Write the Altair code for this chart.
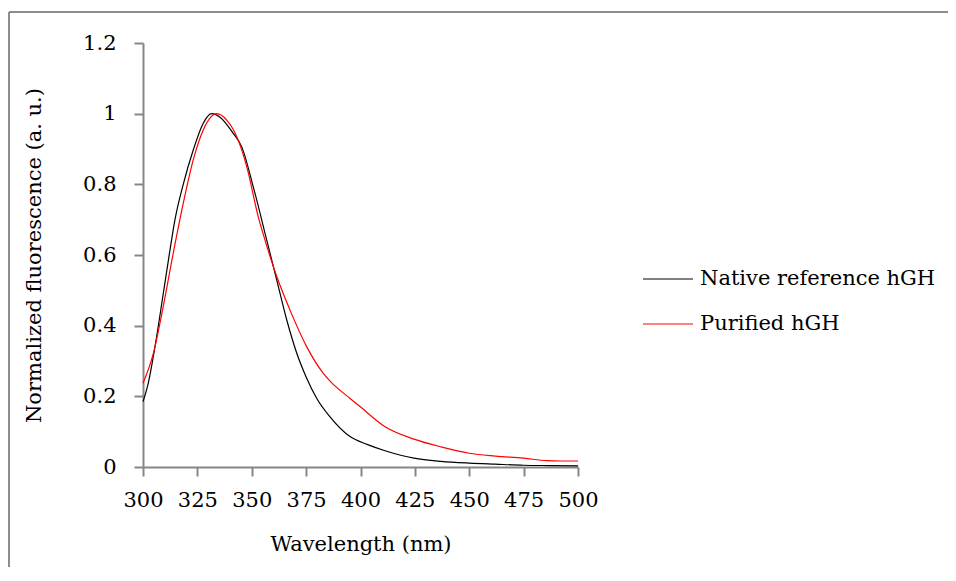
import altair as alt
import pandas as pd

# Native reference hGH
native_wl = [300, 302.4, 305.5, 309.3, 312.4, 314.7, 318.5, 323.1, 327.7, 331.6, 335.4,
             341.5, 345.4, 350.7, 356.9, 361.5, 366.1, 370.7, 375, 379.9, 386, 395.2,
             403, 411.3, 424.6, 437, 450, 462, 475, 487, 500]
native_val = [0.185, 0.237, 0.34, 0.49, 0.614, 0.70, 0.80, 0.897, 0.973, 1.0, 0.99,
              0.944, 0.906, 0.793, 0.642, 0.529, 0.416, 0.322, 0.255, 0.194, 0.142, 0.086,
              0.064, 0.046, 0.025, 0.016, 0.011, 0.008, 0.005, 0.004, 0.003]

# Purified hGH
purified_wl = [300, 304.7, 309.3, 313.9, 318.5, 323.1, 327.7, 333.9, 338.5, 343.1, 347.7,
               353, 356.1, 361.5, 367.6, 375.3, 382.9, 386, 395.2, 399.8, 411.3, 424.6,
               437, 450, 462, 475, 485.6, 492, 500]
purified_val = [0.237, 0.32, 0.454, 0.605, 0.746, 0.869, 0.954, 1.0, 0.982, 0.935, 0.85,
                0.708, 0.642, 0.539, 0.444, 0.34, 0.265, 0.243, 0.194, 0.171, 0.114, 0.079,
                0.057, 0.039, 0.031, 0.025, 0.018, 0.017, 0.017]

series_names = ["Native reference hGH", "Purified hGH"]
series_colors = ["#000000", "#ff0000"]

df = pd.concat([
    pd.DataFrame({"wl": native_wl, "val": native_val, "series": series_names[0]}),
    pd.DataFrame({"wl": purified_wl, "val": purified_val, "series": series_names[1]}),
])

FONT = "DejaVu Serif"

lines = alt.Chart(df).mark_line(strokeWidth=1.2, interpolate="monotone").encode(
    x=alt.X("wl:Q", scale=alt.Scale(domain=[300, 500], nice=False),
            axis=alt.Axis(title="Wavelength (nm)", values=list(range(300, 501, 25)),
                          grid=False, titlePadding=23, labelFlush=False, labelOverlap=False,
                          labelPadding=13)),
    y=alt.Y("val:Q", scale=alt.Scale(domain=[0, 1.2], nice=False),
            axis=alt.Axis(title="Normalized fluorescence (a. u.)", values=[0, 0.2, 0.4, 0.6, 0.8, 1.0, 1.2],
                          format="~g", grid=False, titlePadding=38, labelFlush=False,
                          labelOverlap=False, labelPadding=18)),
    color=alt.Color("series:N", scale=alt.Scale(domain=series_names, range=series_colors),
                    legend=alt.Legend(title=None, orient="none", legendX=499, legendY=210,
                                      symbolType="stroke", symbolSize=2500, symbolStrokeWidth=1.2,
                                      labelFont=FONT, labelFontSize=21, labelColor="#000000",
                                      labelOffset=6, rowPadding=9, labelLimit=400)),
    order=alt.Order("wl:Q"),
)

frame_src = pd.DataFrame({"a": [0]})
frame_top = alt.Chart(frame_src).mark_rule(stroke="#8c8c8c", strokeWidth=2).encode(
    x=alt.value(-134), x2=alt.value(830), y=alt.value(-31)
)
frame_left = alt.Chart(frame_src).mark_rule(stroke="#8c8c8c", strokeWidth=2).encode(
    x=alt.value(-134), y=alt.value(-31), y2=alt.value(560)
)

chart = alt.layer(frame_top, frame_left, lines).properties(
    width=435, height=424,
    autosize=alt.AutoSizeParams(type="none"),
    padding={"left": 135, "top": 35, "right": 370, "bottom": 100},
).configure_view(stroke=None).configure_axis(
    domainColor="#868686", domainWidth=2, tickColor="#868686", tickWidth=2, tickSize=9,
    labelFont=FONT, labelFontSize=21, labelColor="#000000",
    titleFont=FONT, titleFontSize=21, titleColor="#000000", titleFontWeight="normal",
)

chart.save("out.html", embed_options={"renderer": "svg", "actions": False})
